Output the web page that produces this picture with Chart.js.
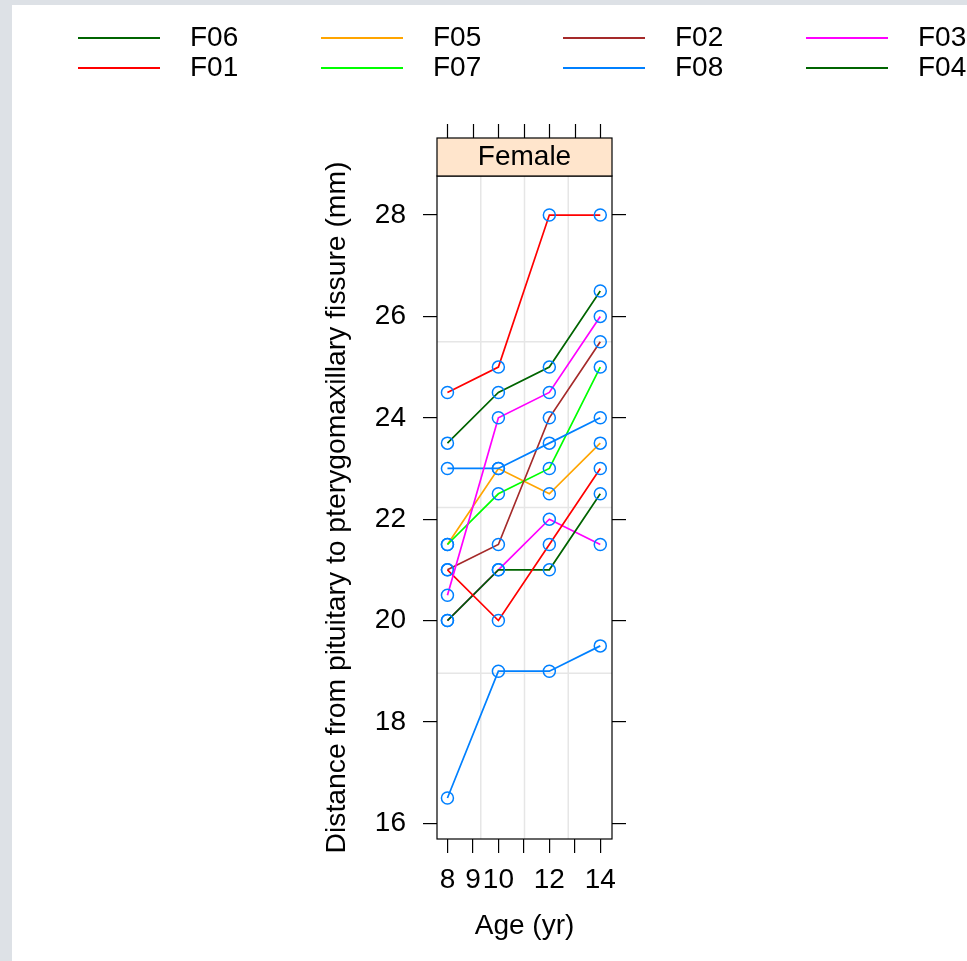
<!DOCTYPE html>
<html><head><meta charset="utf-8">
<script src="https://cdn.jsdelivr.net/npm/chart.js@4/dist/chart.umd.min.js"></script>
<style>
html,body{margin:0;padding:0;background:#dde1e6;}
#wrap{position:relative;width:967px;height:961px;overflow:hidden;}
#bg{position:absolute;left:12px;top:5px;right:0;bottom:0;background:#fff;}
canvas{position:absolute;left:0;top:0;}
</style></head><body>
<div id="wrap"><div id="bg"></div><canvas id="c" width="967" height="961"></canvas></div>
<script>
// ---- data ----
const ages = [8, 10, 12, 14];
const subjects = ['F10','F09','F06','F01','F05','F07','F02','F08','F03','F04','F11'];
const F10 = [16.5, 19, 19, 19.5];
const F09 = [20, 21, 22, 21.5];
const F06 = [20, 21, 21, 22.5];
const F01 = [21, 20, 21.5, 23];
const F05 = [21.5, 23, 22.5, 23.5];
const F07 = [21.5, 22.5, 23, 25];
const F02 = [21, 21.5, 24, 25.5];
const F08 = [23, 23, 23.5, 24];
const F03 = [20.5, 24, 24.5, 26];
const F04 = [23.5, 24.5, 25, 26.5];
const F11 = [24.5, 25, 28, 28];
const seriesValues = [F10, F09, F06, F01, F05, F07, F02, F08, F03, F04, F11];
const seriesColors = ['#0080ff','#ff00ff','#006400','#ff0000','#ffa500','#00ff00','#a52a2a','#0080ff','#ff00ff','#006400','#ff0000'];
const legendOrder = ['F06','F01','F05','F07','F02','F08','F03','F04']; // column-major, 2 rows
const xTicks = [8, 9, 10, 11, 12, 13, 14];
const xTickLabels = ['8', '9', '10', '', '12', '', '14'];
const yTicks = [16, 18, 20, 22, 24, 26, 28];
const panelTitle = 'Female';
const xTitle = 'Age (yr)';
const yTitle = 'Distance from pituitary to pterygomaxillary fissure (mm)';

// ---- chart ----
const FONT = "'Liberation Sans', Arial, sans-serif";
const FS = 28;
const YMIN = 15.69, YMAX = 28.77, XMIN = 7.59, XMAX = 14.46;

const datasets = subjects.map((s, i) => ({
  label: s,
  order: subjects.length - i,
  data: seriesValues[i].map((v, j) => ({x: ages[j], y: v})),
  borderColor: seriesColors[i],
  backgroundColor: 'rgba(0,0,0,0)',
  borderWidth: 1.7,
  pointRadius: 6,
  pointHoverRadius: 6,
  pointBorderColor: '#0080ff',
  pointBackgroundColor: 'rgba(0,0,0,0)',
  pointBorderWidth: 1.5,
  tension: 0,
  fill: false
}));

const panelPlugin = {
  id: 'panelPlugin',
  beforeDatasetsDraw(chart) {
    const {ctx, chartArea: a} = chart;
    ctx.save();
    ctx.strokeStyle = '#e6e6e6';
    ctx.lineWidth = 1.5;
    for (let k = 1; k <= 3; k++) {
      const x = a.left + (a.right - a.left) * k / 4;
      const y = a.top + (a.bottom - a.top) * k / 4;
      ctx.beginPath(); ctx.moveTo(x, a.top); ctx.lineTo(x, a.bottom); ctx.stroke();
      ctx.beginPath(); ctx.moveTo(a.left, y); ctx.lineTo(a.right, y); ctx.stroke();
    }
    ctx.restore();
  },
  afterDatasetsDraw(chart) {
    const {ctx, chartArea: a} = chart;
    const xs = chart.scales.x;
    ctx.save();
    // panel box
    ctx.strokeStyle = '#000';
    ctx.lineWidth = 1.2;
    ctx.strokeRect(a.left, a.top, a.right - a.left, a.bottom - a.top);
    // strip
    const stripH = 38;
    ctx.fillStyle = '#ffe5cc';
    ctx.fillRect(a.left, a.top - stripH, a.right - a.left, stripH);
    ctx.strokeRect(a.left, a.top - stripH, a.right - a.left, stripH);
    ctx.fillStyle = '#000';
    ctx.font = FS + 'px ' + FONT;
    ctx.textAlign = 'center';
    ctx.textBaseline = 'middle';
    ctx.fillText(panelTitle, (a.left + a.right) / 2, a.top - stripH / 2);
    // top ticks
    ctx.lineWidth = 1.2;
    xs.ticks.forEach(t => {
      const px = Math.round(xs.getPixelForValue(t.value)) + 0.5;
      ctx.beginPath(); ctx.moveTo(px, a.top - stripH); ctx.lineTo(px, a.top - stripH - 14); ctx.stroke();
    });
    // legend (2 rows, column-major)
    const colX = [78, 321, 563, 806];
    const rowY = [38, 68];
    ctx.textAlign = 'left';
    legendOrder.forEach((name, i) => {
      const c = Math.floor(i / 2), r = i % 2;
      const idx = subjects.indexOf(name);
      ctx.strokeStyle = seriesColors[idx];
      ctx.lineWidth = 2;
      ctx.beginPath(); ctx.moveTo(colX[c], rowY[r]); ctx.lineTo(colX[c] + 82, rowY[r]); ctx.stroke();
      ctx.fillStyle = '#000';
      ctx.fillText(name, colX[c] + 112, rowY[r]);
    });
    ctx.restore();
  }
};

const tickFont = {family: FONT, size: FS};

new Chart(document.getElementById('c'), {
  type: 'line',
  data: {datasets},
  options: {
    responsive: false,
    animation: false,
    devicePixelRatio: 1,
    layout: {padding: {left: 316, top: 176, right: 341, bottom: 14}},
    plugins: {legend: {display: false}, tooltip: {enabled: false}},
    events: [],
    scales: {
      x: {
        type: 'linear', position: 'bottom', min: XMIN, max: XMAX,
        afterBuildTicks: sc => { sc.ticks = xTicks.map(v => ({value: v})); },
        afterFit: sc => { sc.height = 108; },
        ticks: {autoSkip: false, maxRotation: 0, minRotation: 0, padding: 10, color: '#000', font: tickFont,
          callback: (v, i) => xTickLabels[i]},
        grid: {drawOnChartArea: false, drawTicks: true, tickLength: 14, color: '#000', lineWidth: 1.2},
        border: {display: false},
        title: {display: true, text: xTitle, color: '#000', font: tickFont, padding: {top: 4, bottom: 4}}
      },
      y: {
        type: 'linear', position: 'left', min: YMIN, max: YMAX,
        afterBuildTicks: sc => { sc.ticks = yTicks.map(v => ({value: v})); },
        afterFit: sc => { sc.width = 121; },
        ticks: {padding: 17, color: '#000', font: tickFont, callback: v => String(v)},
        grid: {drawOnChartArea: false, drawTicks: true, tickLength: 14, color: '#000', lineWidth: 1.2},
        border: {display: false},
        title: {display: true, text: yTitle, color: '#000', font: {family: FONT, size: 28.3}, padding: {top: 4, bottom: 4}}
      },
      y2: {
        type: 'linear', position: 'right', min: YMIN, max: YMAX,
        afterBuildTicks: sc => { sc.ticks = yTicks.map(v => ({value: v})); },
        afterFit: sc => { sc.width = 14; },
        ticks: {display: false},
        grid: {drawOnChartArea: false, drawTicks: true, tickLength: 14, color: '#000', lineWidth: 1.2},
        border: {display: false}
      }
    }
  },
  plugins: [panelPlugin]
});
</script>
</body></html>
